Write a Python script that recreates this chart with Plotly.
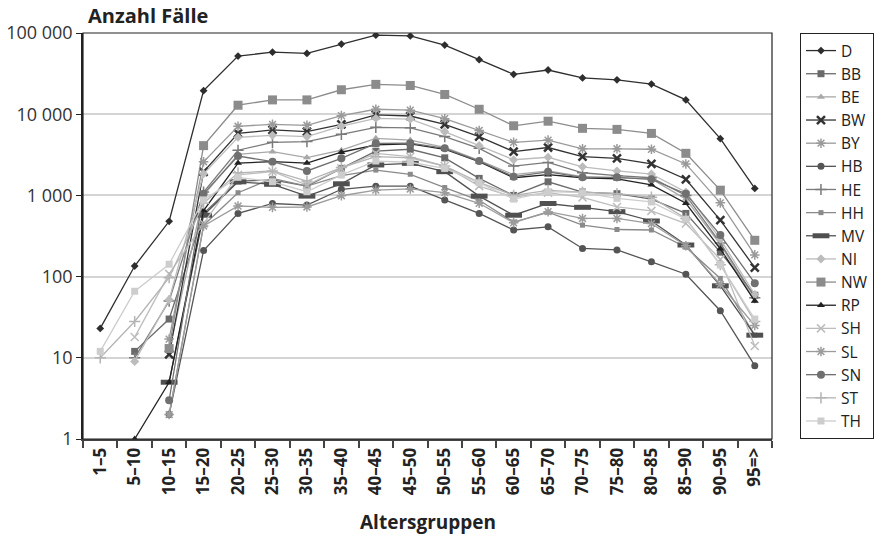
import plotly.graph_objects as go

categories = ["1–5", "5–10", "10–15", "15–20", "20–25", "25–30", "30–35", "35–40",
              "40–45", "45–50", "50–55", "55–60", "60–65", "65–70", "70–75", "75–80",
              "80–85", "85–90", "90–95", "95=>"]

D  = [23, 135, 480, 19500, 52000, 58000, 56000, 73000, 94000, 92000, 71000, 47000, 31000, 35000, 28000, 26500, 23500, 15000, 5000, 1220]
BB = [None, 12, 30, 600, 1500, 1550, 1300, 2150, 3500, 3700, 2900, 1620, 1000, 1470, 1100, 1050, 900, 600, 200, 59]
BE = [None, None, 12, 1000, 3200, 3460, 2920, 3600, 5050, 4800, 3900, 2700, 1800, 2000, 1700, 1650, 1600, 900, 250, 50]
BW = [None, None, 11, 1950, 5800, 6400, 6100, 7500, 9800, 9500, 7500, 5300, 3460, 3890, 3000, 2860, 2440, 1580, 495, 129]
BY = [None, None, 17, 2600, 7100, 7500, 7300, 9600, 11500, 11200, 8800, 6300, 4500, 4800, 3750, 3750, 3700, 2440, 810, 185]
HB = [None, None, 2, 210, 600, 795, 760, 1190, 1300, 1300, 880, 600, 375, 410, 222, 213, 152, 107, 38, 8]
HE = [None, 10, 50, 1100, 3600, 4500, 4600, 5650, 6900, 6800, 5300, 3800, 2300, 2550, 1900, 1750, 1650, 1000, 260, 55]
HH = [None, None, 2, 430, 1080, 1620, 1300, 1750, 2050, 1820, 1250, 870, 470, 620, 430, 380, 375, 230, 95, 19]
MV = [None, None, 5, 570, 1470, 1370, 980, 1390, 2370, 2480, 1960, 980, 570, 795, 713, 630, 484, 245, 77, 19]
NI = [None, 9, 52, 1850, 5200, 5500, 5300, 7150, 8900, 8700, 6100, 4100, 2750, 2950, 2250, 2000, 1830, 1100, 290, 60]
NW = [None, None, 13, 4100, 12900, 15000, 15000, 20000, 23300, 22600, 17500, 11500, 7200, 8200, 6700, 6500, 5800, 3300, 1160, 280]
RP = [None, 1, 5, 650, 2500, 2600, 2500, 3400, 4200, 4300, 3700, 2600, 1650, 1800, 1650, 1600, 1350, 800, 220, 50]
SH = [None, 18, 108, 450, 1790, 1970, 1340, 2150, 3300, 3000, 2300, 1300, 950, 1080, 945, 720, 645, 450, 163, 14]
SL = [None, None, 2, 420, 740, 713, 720, 990, 1160, 1200, 1080, 800, 460, 630, 520, 520, 450, 240, 80, 25]
SN = [None, None, 3, 1050, 3050, 2600, 2000, 2860, 4380, 4400, 3800, 2650, 1700, 1950, 1670, 1670, 1580, 1050, 325, 83]
ST = [10, 28, 97, 800, 1900, 2000, 1500, 2200, 3000, 2900, 2300, 1450, 1000, 1150, 1100, 1050, 950, 520, 140, 28]
TH = [12, 66, 142, 880, 1670, 1470, 1110, 1790, 2650, 2560, 2150, 1430, 900, 1110, 1080, 920, 830, 510, 139, 30]

y_tickvals = [1, 10, 100, 1000, 10000, 100000]
y_ticktext = ["1", "10", "100", "1 000", "10 000", "100 000"]

series = [
    ("D", D, "#2e2e2e", "diamond", 6, None),
    ("BB", BB, "#6a6a6a", "square", 7, None),
    ("BE", BE, "#a8a8a8", "triangle-up", 7, None),
    ("BW", BW, "#333333", "x-thin-open", 8, 2.5),
    ("BY", BY, "#9a9a9a", "asterisk-open", 8, 1.5),
    ("HB", HB, "#555555", "circle", 7, None),
    ("HE", HE, "#7a7a7a", "cross-thin-open", 8, 1.5),
    ("HH", HH, "#8a8a8a", "square", 5, None),
    ("MV", MV, "#505050", "line-ew-open", 12, 5),
    ("NI", NI, "#bcbcbc", "diamond", 7, None),
    ("NW", NW, "#8c8c8c", "square", 9, None),
    ("RP", RP, "#222222", "triangle-up", 7, None),
    ("SH", SH, "#bdbdbd", "x-thin-open", 8, 1.5),
    ("SL", SL, "#9c9c9c", "asterisk-open", 8, 1.5),
    ("SN", SN, "#707070", "circle", 8, None),
    ("ST", ST, "#b4b4b4", "cross-thin-open", 8, 1.5),
    ("TH", TH, "#cdcdcd", "square", 7, None),
]

FONT = "Open Sans, Liberation Sans, sans-serif"

fig = go.Figure()
for name, vals, col, sym, size, lw in series:
    marker = dict(symbol=sym, size=size, color=col)
    if lw is not None:
        marker["line"] = dict(color=col, width=lw)
    fig.add_trace(go.Scatter(
        x=categories, y=vals, name=name, mode="lines+markers",
        line=dict(color=col, width=1.3), marker=marker,
    ))

fig.update_layout(
    width=887, height=541,
    margin=dict(l=83, r=115, t=33, b=102, autoexpand=False),
    paper_bgcolor="white", plot_bgcolor="white",
    font=dict(family=FONT, color="#222"),
    showlegend=True,
    legend=dict(
        x=1.0406, y=1.0, xanchor="left", yanchor="top",
        bordercolor="#222", borderwidth=1,
        font=dict(size=15.5, color="#222", family=FONT),
        itemwidth=30, tracegroupgap=0,
    ),
    xaxis=dict(
        type="category", categoryorder="array", categoryarray=categories,
        tickson="boundaries", ticks="outside", ticklen=7, tickwidth=1.5, tickcolor="#444",
        showline=True, linecolor="#444", linewidth=2,
        tickangle=-90, tickfont=dict(size=17, family=FONT, color="#222", weight="bold"),
        showgrid=False, range=[-0.5, 19.5], automargin=False,
    ),
    yaxis=dict(
        type="log", range=[0, 5],
        tickvals=y_tickvals, ticktext=y_ticktext,
        ticks="outside", ticklen=5, tickcolor="#222",
        showline=True, linecolor="#222", linewidth=1.5,
        showgrid=True, gridcolor="#d4d4d4", gridwidth=1.5,
        tickfont=dict(size=18, family=FONT, color="#333"),
        zeroline=False, automargin=False,
    ),
    shapes=[dict(type="rect", xref="paper", yref="paper", x0=0, x1=1, y0=0, y1=1,
                 line=dict(color="#222", width=1.2), fillcolor="rgba(0,0,0,0)", layer="above")],
    annotations=[
        dict(text="<b>Anzahl Fälle</b>", xref="paper", yref="paper", x=0.005, y=1.042,
             xanchor="left", yanchor="middle", showarrow=False,
             font=dict(size=20, family=FONT, color="#222")),
        dict(text="<b>Altersgruppen</b>", xref="paper", yref="paper", x=0.5, y=-0.205,
             xanchor="center", yanchor="middle", showarrow=False,
             font=dict(size=19, family=FONT, color="#222")),
    ],
)

fig.write_html("out.html", config={"displayModeBar": False},
               post_script="document.body.style.margin='0px';document.body.style.overflow='hidden';")
